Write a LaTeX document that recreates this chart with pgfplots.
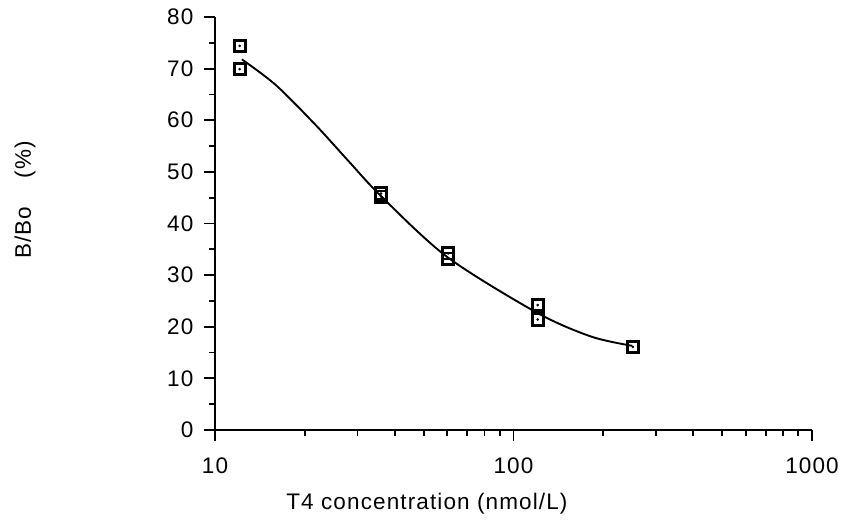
\documentclass[border=0pt]{standalone}
\usepackage{fontspec}
\setmainfont{Liberation Sans}[LetterSpace=5]
\usepackage{pgfplots}
\pgfplotsset{compat=1.18}

% Binding curve: B/Bo against T4 concentration
\begin{document}
\fontsize{22.5}{26}\selectfont
\begin{tikzpicture}
\begin{axis}[
  name=ax,
  scale only axis,
  width=597pt, height=413pt,
  xmode=log,
  xmin=10, xmax=1000,
  ymin=0, ymax=80,
  axis x line=bottom, axis y line=left,
  axis line style={-, line width=2.1pt},
  xtick={10,100,1000},
  xticklabels={10,100,1000},
  ytick={0,10,...,80},
  minor y tick num=1,
  tick align=outside,
  major tick length=11pt,
  minor tick length=6pt,
  every tick/.style={black, line width=1.8pt},
  /pgf/number format/assume math mode=true,
  ticklabel style={font=\fontsize{22.5}{26}\selectfont},
  yticklabel style={xshift=-3pt},
  xticklabel style={yshift=-9pt},
  xlabel={T4 concentration (nmol/L)},
  ylabel={B/Bo\hspace{28pt}(\%)},
  xlabel style={at={(axis description cs:0.355,-0.179)}, anchor=center},
  ylabel style={at={(axis description cs:-0.318,0.557)}, anchor=center},
  clip=false,
]
% fitted curve
\addplot[black, line width=1.9pt, smooth, tension=0.5] coordinates {
  (12.3,71.8) (16,66.8) (21.8,59) (27.5,52.6) (36,45.3)
  (60,33.5) (120,22.7) (182,18.1) (250,16.3)
};
% measured standards (duplicates)
\addplot[only marks, mark=square, mark size=5.6pt,
  mark options={line width=2.9pt, black}] coordinates {
  (12.1,74.4) (12.1,69.9)
  (36,45.8) (36,45.2)
  (60.4,34.2) (60.4,33.2)
  (120.5,24.2) (120.5,21.4)
  (251,16.1)
};
\addplot[only marks, mark=*, mark size=1.1pt, black] coordinates {
  (12.1,74.4) (12.1,69.9)
  (36,45.8) (36,45.2)
  (60.4,34.2) (60.4,33.2)
  (120.5,24.2) (120.5,21.4)
  (251,16.1)
};
\end{axis}
\path (ax.south west) ++(-215pt,-96pt) rectangle ([shift={(39pt,17pt)}]ax.north east);
\end{tikzpicture}
\end{document}
